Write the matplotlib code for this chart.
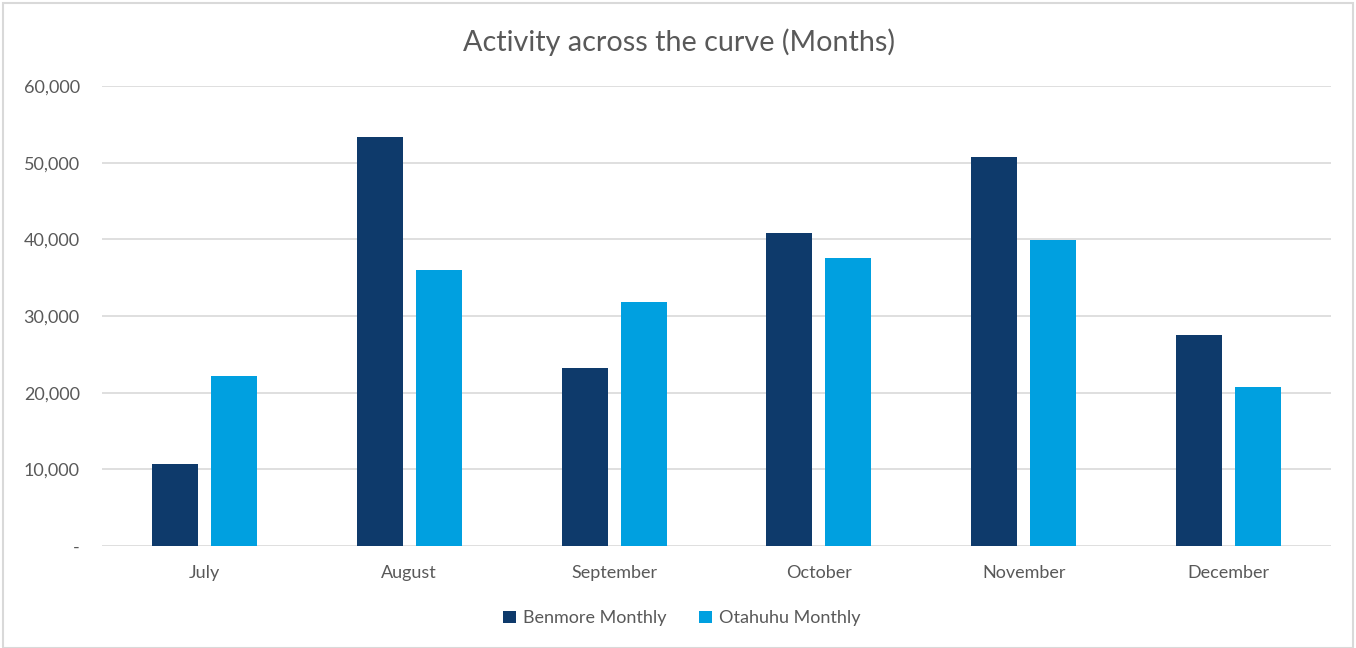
import numpy as np
import matplotlib.pyplot as plt
from matplotlib.patches import Rectangle

months = ['July', 'August', 'September', 'October', 'November', 'December']
benmore = [10700, 53300, 23200, 40800, 50700, 27500]
otahuhu = [22200, 36000, 31800, 37600, 39900, 20700]

plt.rcParams['font.family'] = ['Lato', 'DejaVu Sans']
grey = '#595959'

fig = plt.figure(figsize=(13.56, 6.48), dpi=100)
ax = fig.add_axes([0.0752, 0.1574, 0.9064, 0.7099])

x = np.arange(len(months))
w = 0.224
ax.bar(x - 0.144, benmore, w, color='#0E3A6B', label='Benmore Monthly', zorder=3)
ax.bar(x + 0.144, otahuhu, w, color='#00A0E0', label='Otahuhu Monthly', zorder=3)

ax.set_xlim(-0.5, len(months) - 0.5)
ax.set_ylim(0, 60000)
ax.set_yticks(range(0, 60001, 10000))
ax.set_yticklabels(['-'] + [f'{v:,}' for v in range(10000, 60001, 10000)])
ax.set_xticks(x)
ax.set_xticklabels(months)
ax.grid(axis='y', color='#D9D9D9', linewidth=1.2, zorder=0)
for s in ax.spines.values():
    s.set_visible(False)
ax.tick_params(length=0, labelsize=13, labelcolor=grey)
ax.tick_params(axis='y', pad=16)
ax.tick_params(axis='x', pad=14)

fig.text(0.501, 0.935, 'Activity across the curve (Months)', fontsize=20.7,
         color=grey, ha='center', va='center')
fig.legend(loc='center', bbox_to_anchor=(0.503, 0.046), ncol=2, frameon=False,
           fontsize=13, labelcolor=grey, handlelength=0.7, handleheight=0.7,
           handletextpad=0.4, columnspacing=1.8)

fig.patches.append(Rectangle((0.002, 0.0), 0.996, 0.995, transform=fig.transFigure,
                             fill=False, edgecolor='#D9D9D9', linewidth=1.5))

plt.savefig('out.png')
